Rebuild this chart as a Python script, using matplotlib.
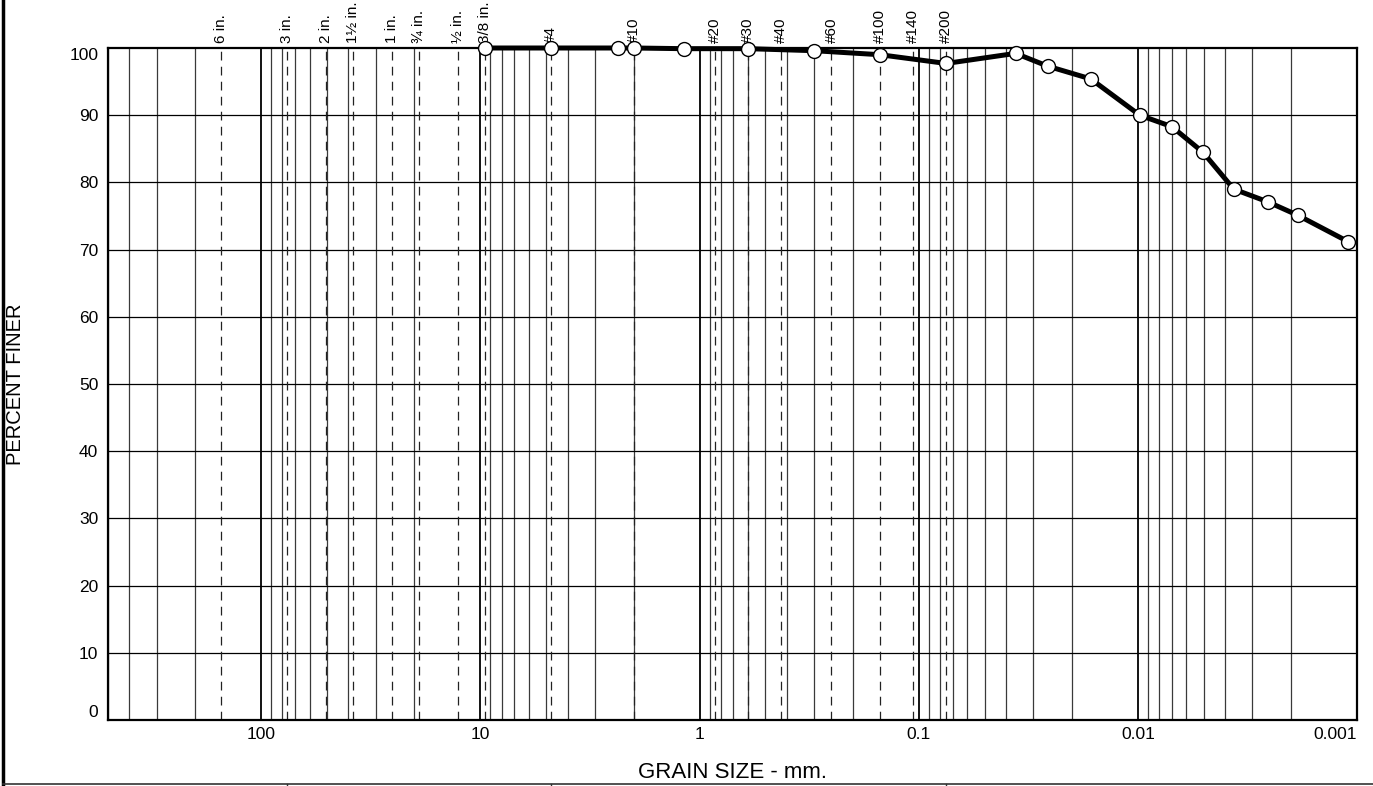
import matplotlib
matplotlib.use("Agg")
import matplotlib.pyplot as plt
from matplotlib.lines import Line2D

plt.rcParams["font.family"] = ["Liberation Sans", "DejaVu Sans"]

# US standard sieve openings (mm) and their labels
sieve_names = ["6 in.", "3 in.", "2 in.", "1½ in.", "1 in.", "¾ in.", "½ in.", "3/8 in.",
               "#4", "#10", "#20", "#30", "#40", "#60", "#100", "#140", "#200"]
sieve_mm = [152.4, 76.2, 50.8, 38.1, 25.4, 19.05, 12.7, 9.525,
            4.75, 2.0, 0.85, 0.6, 0.425, 0.25, 0.15, 0.106, 0.075]

# sieve + hydrometer results
grain_mm = [9.525, 4.75, 2.36, 2.0, 1.18, 0.6, 0.3, 0.15, 0.075,
            0.0361, 0.0258, 0.0164, 0.0098, 0.0070, 0.00505, 0.00365, 0.00255, 0.00186, 0.0011]
pct_finer = [100, 100, 100, 100, 99.9, 99.9, 99.6, 99.0, 97.7,
             99.2, 97.3, 95.4, 90.0, 88.3, 84.5, 79.0, 77.1, 75.1, 71.2]

x_ticks = [100, 10, 1, 0.1, 0.01, 0.001]
x_ticklabels = ["100", "10", "1", "0.1", "0.01", "0.001"]
y_ticks = list(range(0, 101, 10))

W, H = 1373, 786
fig = plt.figure(figsize=(W / 100, H / 100), dpi=100)
ax = fig.add_axes([108 / W, (H - 720) / H, (1357 - 108) / W, (720 - 48) / H])

ax.set_xscale("log")
ax.set_xlim(500, 0.001)
ax.set_ylim(0, 100)

# log grid: every 1..9 within each decade
for exp in range(-3, 3):
    for m in range(1, 10):
        v = m * 10.0 ** exp
        if v > 500 or v < 0.001:
            continue
        if m == 1:
            ax.axvline(v, color="black", lw=1.3, zorder=1)
        else:
            ax.axvline(v, color="#3a3a3a", lw=0.9, zorder=1)
for yv in y_ticks[1:-1]:
    ax.axhline(yv, color="black", lw=0.9, zorder=1)

# sieve lines with labels above the frame
for name, mm in zip(sieve_names, sieve_mm):
    ax.axvline(mm, color="#222222", lw=0.9, ls=(0, (7, 5)), zorder=1)
    ax.text(mm, 100.7, name, rotation=90, ha="center", va="bottom", fontsize=11)

ax.plot(grain_mm, pct_finer, color="black", lw=3.6, zorder=3, clip_on=False,
        marker="o", ms=10, mfc="white", mec="black", mew=1.0)

ax.set_xticks(x_ticks)
ax.set_xticklabels(x_ticklabels)
ax.xaxis.set_minor_locator(matplotlib.ticker.NullLocator())
ax.set_yticks(y_ticks)
ax.tick_params(axis="both", length=0, labelsize=12.5)
ax.tick_params(axis="x", pad=5)
ax.tick_params(axis="y", pad=7)
yt = ax.yaxis.get_major_ticks()
yt[0].label1.set_verticalalignment("bottom")
yt[-1].label1.set_verticalalignment("top")
ax.xaxis.get_major_ticks()[-1].label1.set_horizontalalignment("right")

for s in ax.spines.values():
    s.set_linewidth(1.6)

fig.text(16 / W, 1 - 384 / H, "PERCENT FINER", rotation=90, ha="center", va="center", fontsize=14.5)
fig.text(732 / W, 1 - 772 / H, "GRAIN SIZE - mm.", ha="center", va="center", fontsize=16)

# page frame: left border and bottom table row
fig.add_artist(Line2D([3 / W, 3 / W], [0, 1], color="black", lw=2.5))
fig.add_artist(Line2D([3 / W, 1], [1 - 784 / H] * 2, color="#333333", lw=1.2))
for xd in [287, 551, 946]:
    fig.add_artist(Line2D([xd / W] * 2, [0, 1 - 784 / H], color="#333333", lw=1.0))

fig.savefig("out.png", dpi=100)
